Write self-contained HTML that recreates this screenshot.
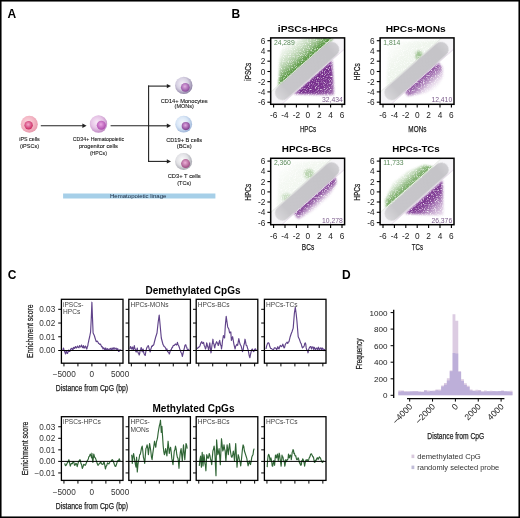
<!DOCTYPE html>
<html><head><meta charset="utf-8"><style>html,body{margin:0;padding:0;background:#fff;width:520px;height:518px;overflow:hidden}svg{display:block;will-change:transform}text{font-family:"Liberation Sans",sans-serif}</style></head>
<body><svg width="520" height="518" viewBox="0 0 520 518" font-family="Liberation Sans, sans-serif"><defs><radialGradient id="bi" cx="0.42" cy="0.4" r="0.62"><stop offset="0" stop-color="#fbd8e0"/><stop offset="0.55" stop-color="#f4b8c6"/><stop offset="1" stop-color="#e898ac"/></radialGradient><radialGradient id="ni" cx="0.45" cy="0.4" r="0.6"><stop offset="0" stop-color="#f5a8cc"/><stop offset="1" stop-color="#c8245c"/></radialGradient><radialGradient id="bh" cx="0.42" cy="0.4" r="0.62"><stop offset="0" stop-color="#f8eaf8"/><stop offset="0.55" stop-color="#e6c4e6"/><stop offset="1" stop-color="#c08ac4"/></radialGradient><radialGradient id="nh" cx="0.45" cy="0.4" r="0.6"><stop offset="0" stop-color="#eaa8e4"/><stop offset="1" stop-color="#ac4aac"/></radialGradient><radialGradient id="bm" cx="0.42" cy="0.4" r="0.62"><stop offset="0" stop-color="#f6f2fa"/><stop offset="0.55" stop-color="#d6d0e2"/><stop offset="1" stop-color="#8c80a2"/></radialGradient><radialGradient id="nm" cx="0.45" cy="0.4" r="0.6"><stop offset="0" stop-color="#e2aee2"/><stop offset="1" stop-color="#8a4a9c"/></radialGradient><radialGradient id="bbc" cx="0.42" cy="0.4" r="0.62"><stop offset="0" stop-color="#f4f8fe"/><stop offset="0.55" stop-color="#d8e6f6"/><stop offset="1" stop-color="#9cb4d8"/></radialGradient><radialGradient id="nbc" cx="0.45" cy="0.4" r="0.6"><stop offset="0" stop-color="#e2a8e2"/><stop offset="1" stop-color="#7a3a8c"/></radialGradient><radialGradient id="bt" cx="0.42" cy="0.4" r="0.62"><stop offset="0" stop-color="#fafafa"/><stop offset="0.55" stop-color="#e2e2e6"/><stop offset="1" stop-color="#a4a4ac"/></radialGradient><radialGradient id="nt" cx="0.45" cy="0.4" r="0.6"><stop offset="0" stop-color="#eeb0d8"/><stop offset="1" stop-color="#9a4a80"/></radialGradient><filter id="soft" x="-0.3" y="-0.3" width="1.6" height="1.6" color-interpolation-filters="sRGB"><feGaussianBlur in="SourceGraphic" stdDeviation="1.2" result="b"/><feTurbulence type="fractalNoise" baseFrequency="0.85" numOctaves="2" seed="4" result="n"/><feGaussianBlur in="n" stdDeviation="0.5" result="n2"/><feColorMatrix in="n2" type="matrix" values="0 0 0 0 0  0 0 0 0 0  0 0 0 0 0  0 0 0 2.6 -0.3" result="m"/><feComposite in="b" in2="m" operator="in"/></filter><filter id="soft1" x="-0.3" y="-0.3" width="1.6" height="1.6"><feGaussianBlur stdDeviation="0.6"/></filter><linearGradient id="bandg" x1="0" y1="0" x2="1" y2="0"><stop offset="0" stop-color="#d8d7da"/><stop offset="0.16" stop-color="#c7c6ca"/><stop offset="0.88" stop-color="#c5c4c8"/><stop offset="1" stop-color="#d0cfd3"/></linearGradient><linearGradient id="tg1" gradientUnits="userSpaceOnUse" x1="305.0" y1="62.8" x2="287.5" y2="42.9"><stop offset="0" stop-color="#56963f" stop-opacity="1.000"/><stop offset="0.15" stop-color="#56963f" stop-opacity="0.900"/><stop offset="0.3" stop-color="#56963f" stop-opacity="0.600"/><stop offset="0.5" stop-color="#56963f" stop-opacity="0.360"/><stop offset="0.75" stop-color="#56963f" stop-opacity="0.170"/><stop offset="1" stop-color="#56963f" stop-opacity="0.050"/></linearGradient><linearGradient id="tg2" gradientUnits="userSpaceOnUse" x1="315.7" y1="74.6" x2="334.0" y2="95.0"><stop offset="0" stop-color="#742a8a" stop-opacity="1.000"/><stop offset="0.5" stop-color="#742a8a" stop-opacity="0.950"/><stop offset="0.8" stop-color="#742a8a" stop-opacity="0.800"/><stop offset="1" stop-color="#742a8a" stop-opacity="0.550"/></linearGradient><clipPath id="clip0_0"><rect x="270.7" y="37.9" width="73.90000000000003" height="66.4"/></clipPath><linearGradient id="tg3" gradientUnits="userSpaceOnUse" x1="410.0" y1="66.5" x2="388.4" y2="42.0"><stop offset="0" stop-color="#56963f" stop-opacity="0.100"/><stop offset="0.4" stop-color="#56963f" stop-opacity="0.080"/><stop offset="1" stop-color="#56963f" stop-opacity="0.000"/></linearGradient><linearGradient id="tg4" gradientUnits="userSpaceOnUse" x1="424.7" y1="74.5" x2="436.6" y2="88.0"><stop offset="0" stop-color="#742a8a" stop-opacity="0.850"/><stop offset="0.3" stop-color="#742a8a" stop-opacity="0.600"/><stop offset="0.65" stop-color="#742a8a" stop-opacity="0.200"/><stop offset="1" stop-color="#742a8a" stop-opacity="0.020"/></linearGradient><clipPath id="clip109_0"><rect x="380.1" y="37.9" width="73.89999999999998" height="66.4"/></clipPath><linearGradient id="tg5" gradientUnits="userSpaceOnUse" x1="300.6" y1="186.9" x2="279.0" y2="162.4"><stop offset="0" stop-color="#56963f" stop-opacity="0.080"/><stop offset="0.4" stop-color="#56963f" stop-opacity="0.064"/><stop offset="1" stop-color="#56963f" stop-opacity="0.000"/></linearGradient><linearGradient id="tg6" gradientUnits="userSpaceOnUse" x1="315.3" y1="194.9" x2="322.6" y2="203.1"><stop offset="0" stop-color="#742a8a" stop-opacity="0.950"/><stop offset="0.35" stop-color="#742a8a" stop-opacity="0.700"/><stop offset="0.75" stop-color="#742a8a" stop-opacity="0.220"/><stop offset="1" stop-color="#742a8a" stop-opacity="0.000"/></linearGradient><clipPath id="clip0_120"><rect x="270.7" y="158.3" width="73.90000000000003" height="66.39999999999998"/></clipPath><linearGradient id="tg7" gradientUnits="userSpaceOnUse" x1="414.1" y1="182.8" x2="404.2" y2="171.6"><stop offset="0" stop-color="#56963f" stop-opacity="0.850"/><stop offset="0.3" stop-color="#56963f" stop-opacity="0.650"/><stop offset="0.6" stop-color="#56963f" stop-opacity="0.300"/><stop offset="1" stop-color="#56963f" stop-opacity="0.030"/></linearGradient><linearGradient id="tg8" gradientUnits="userSpaceOnUse" x1="425.6" y1="195.4" x2="443.4" y2="215.4"><stop offset="0" stop-color="#742a8a" stop-opacity="1.000"/><stop offset="0.3" stop-color="#742a8a" stop-opacity="0.850"/><stop offset="0.6" stop-color="#742a8a" stop-opacity="0.450"/><stop offset="1" stop-color="#742a8a" stop-opacity="0.100"/></linearGradient><clipPath id="clip109_120"><rect x="380.1" y="158.3" width="73.89999999999998" height="66.39999999999998"/></clipPath></defs><rect width="520" height="518" fill="#fff"/><rect x="0.75" y="0.75" width="518.5" height="516.5" fill="none" stroke="#000" stroke-width="1.6"/>
<text x="7.60" y="17.80" font-size="12" fill="#000" font-weight="bold">A</text>
<text x="231.50" y="17.90" font-size="12" fill="#000" font-weight="bold">B</text>
<text x="7.80" y="279.30" font-size="12" fill="#000" font-weight="bold">C</text>
<text x="342.00" y="278.80" font-size="12" fill="#000" font-weight="bold">D</text>
<circle cx="29.3" cy="124.2" r="8.5" fill="url(#bi)"/>
<circle cx="28.6" cy="125.3" r="4.2" fill="url(#ni)"/>
<circle cx="98.5" cy="124.0" r="8.7" fill="url(#bh)"/>
<circle cx="101.3" cy="125.3" r="4.5" fill="url(#nh)"/>
<circle cx="183.8" cy="85.4" r="8.7" fill="url(#bm)"/>
<circle cx="185.3" cy="87.3" r="4.4" fill="url(#nm)"/>
<circle cx="183.7" cy="124.2" r="8.4" fill="url(#bbc)"/>
<circle cx="185.8" cy="126.1" r="4.1" fill="url(#nbc)"/>
<circle cx="183.6" cy="161.4" r="8.5" fill="url(#bt)"/>
<circle cx="185.6" cy="163.6" r="4.5" fill="url(#nt)"/>
<line x1="40.8" y1="125.8" x2="83.6" y2="125.8" stroke="#222" stroke-width="1.1"/>
<polygon points="86.6,125.8 82.39999999999999,123.6 82.39999999999999,128.0" fill="#222"/>
<line x1="110.6" y1="125.8" x2="148.6" y2="125.8" stroke="#222" stroke-width="1.1"/>
<line x1="148.6" y1="85.6" x2="148.6" y2="161.9" stroke="#222" stroke-width="1.1"/>
<line x1="148.1" y1="86.1" x2="168.0" y2="86.1" stroke="#222" stroke-width="1.1"/>
<polygon points="171.0,86.1 166.8,83.89999999999999 166.8,88.3" fill="#222"/>
<line x1="148.1" y1="125.8" x2="168.0" y2="125.8" stroke="#222" stroke-width="1.1"/>
<polygon points="171.0,125.8 166.8,123.6 166.8,128.0" fill="#222"/>
<line x1="148.1" y1="161.4" x2="168.0" y2="161.4" stroke="#222" stroke-width="1.1"/>
<polygon points="171.0,161.4 166.8,159.20000000000002 166.8,163.6" fill="#222"/>
<text x="29.50" y="141.00" font-size="5.9" fill="#222" text-anchor="middle" textLength="20.4" lengthAdjust="spacingAndGlyphs" stroke="#222" stroke-width="0.12">iPS cells</text>
<text x="29.50" y="147.70" font-size="5.9" fill="#222" text-anchor="middle" textLength="19.0" lengthAdjust="spacingAndGlyphs" stroke="#222" stroke-width="0.12">(iPSCs)</text>
<text x="98.40" y="140.60" font-size="5.9" fill="#222" text-anchor="middle" textLength="51.2" lengthAdjust="spacingAndGlyphs" stroke="#222" stroke-width="0.12">CD34+ Hematopoietic</text>
<text x="98.40" y="148.10" font-size="5.9" fill="#222" text-anchor="middle" textLength="39.0" lengthAdjust="spacingAndGlyphs" stroke="#222" stroke-width="0.12">progenitor cells</text>
<text x="98.40" y="155.20" font-size="5.9" fill="#222" text-anchor="middle" textLength="17.0" lengthAdjust="spacingAndGlyphs" stroke="#222" stroke-width="0.12">(HPCs)</text>
<text x="184.20" y="102.50" font-size="5.9" fill="#222" text-anchor="middle" textLength="46.9" lengthAdjust="spacingAndGlyphs" stroke="#222" stroke-width="0.12">CD14+ Monocytes</text>
<text x="184.20" y="108.40" font-size="5.9" fill="#222" text-anchor="middle" textLength="19.2" lengthAdjust="spacingAndGlyphs" stroke="#222" stroke-width="0.12">(MONs)</text>
<text x="184.20" y="141.50" font-size="5.9" fill="#222" text-anchor="middle" textLength="36.0" lengthAdjust="spacingAndGlyphs" stroke="#222" stroke-width="0.12">CD19+ B cells</text>
<text x="184.20" y="147.70" font-size="5.9" fill="#222" text-anchor="middle" textLength="15.0" lengthAdjust="spacingAndGlyphs" stroke="#222" stroke-width="0.12">(BCs)</text>
<text x="184.20" y="178.10" font-size="5.9" fill="#222" text-anchor="middle" textLength="33.0" lengthAdjust="spacingAndGlyphs" stroke="#222" stroke-width="0.12">CD3+ T cells</text>
<text x="184.20" y="185.10" font-size="5.9" fill="#222" text-anchor="middle" textLength="14.0" lengthAdjust="spacingAndGlyphs" stroke="#222" stroke-width="0.12">(TCs)</text>
<rect x="63.1" y="193.5" width="152.3" height="5" fill="#a6cfe8"/>
<text x="110.00" y="198.20" font-size="5.9" fill="#1a2a40" textLength="56.4" lengthAdjust="spacingAndGlyphs">Hematopoietic linage</text>
<g clip-path="url(#clip0_0)">
<polygon points="252.0,108.5 357.1,16.1 368.0,28.4 262.9,120.8" fill="#f6f5f8"/>
<line x1="252.0" y1="108.5" x2="357.1" y2="16.1" stroke="#e2e1e6" stroke-width="0.9"/>
<line x1="262.9" y1="120.8" x2="368.0" y2="28.4" stroke="#e2e1e6" stroke-width="0.9"/>
<polygon points="278.4,87.0 333.2,38.8 326.3,35.5 310.7,35.9 289.7,42.4 281.5,48.2 279.3,60.8 279.1,75.7" fill="url(#tg1)" filter="url(#soft)"/>
<polygon points="294.0,94.0 332.0,60.0 334.0,95.0" fill="url(#tg2)" filter="url(#soft)"/>
<line x1="252.2" y1="108.8" x2="357.3" y2="16.3" stroke="#eef2ea" stroke-width="1"/>
<line x1="262.7" y1="120.7" x2="367.8" y2="28.2" stroke="#f0e4f2" stroke-width="1"/>
<g transform="translate(310.00,68.45) rotate(-41.35)"><rect x="-44.2" y="-7.4" width="80.6" height="14.9" rx="7.45" fill="url(#bandg)" filter="url(#soft1)"/></g>
</g>
<rect x="270.70" y="37.90" width="73.90" height="66.40" fill="none" stroke="#000" stroke-width="1.5"/>
<line x1="267.40" y1="40.70" x2="270.70" y2="40.70" stroke="#000" stroke-width="1.1"/>
<text x="265.30" y="43.70" font-size="8.3" fill="#1a1a1a" text-anchor="end">6</text>
<line x1="267.40" y1="50.90" x2="270.70" y2="50.90" stroke="#000" stroke-width="1.1"/>
<text x="265.30" y="53.90" font-size="8.3" fill="#1a1a1a" text-anchor="end">4</text>
<line x1="267.40" y1="61.20" x2="270.70" y2="61.20" stroke="#000" stroke-width="1.1"/>
<text x="265.30" y="64.20" font-size="8.3" fill="#1a1a1a" text-anchor="end">2</text>
<line x1="267.40" y1="71.50" x2="270.70" y2="71.50" stroke="#000" stroke-width="1.1"/>
<text x="265.30" y="74.50" font-size="8.3" fill="#1a1a1a" text-anchor="end">0</text>
<line x1="267.40" y1="81.60" x2="270.70" y2="81.60" stroke="#000" stroke-width="1.1"/>
<text x="265.30" y="84.60" font-size="8.3" fill="#1a1a1a" text-anchor="end">-2</text>
<line x1="267.40" y1="91.90" x2="270.70" y2="91.90" stroke="#000" stroke-width="1.1"/>
<text x="265.30" y="94.90" font-size="8.3" fill="#1a1a1a" text-anchor="end">-4</text>
<line x1="267.40" y1="102.20" x2="270.70" y2="102.20" stroke="#000" stroke-width="1.1"/>
<text x="265.30" y="105.20" font-size="8.3" fill="#1a1a1a" text-anchor="end">-6</text>
<line x1="273.60" y1="104.30" x2="273.60" y2="107.50" stroke="#000" stroke-width="1.1"/>
<text x="273.60" y="118.30" font-size="8.3" fill="#1a1a1a" text-anchor="middle">-6</text>
<line x1="285.00" y1="104.30" x2="285.00" y2="107.50" stroke="#000" stroke-width="1.1"/>
<text x="285.00" y="118.30" font-size="8.3" fill="#1a1a1a" text-anchor="middle">-4</text>
<line x1="296.40" y1="104.30" x2="296.40" y2="107.50" stroke="#000" stroke-width="1.1"/>
<text x="296.40" y="118.30" font-size="8.3" fill="#1a1a1a" text-anchor="middle">-2</text>
<line x1="307.80" y1="104.30" x2="307.80" y2="107.50" stroke="#000" stroke-width="1.1"/>
<text x="307.80" y="118.30" font-size="8.3" fill="#1a1a1a" text-anchor="middle">0</text>
<line x1="319.20" y1="104.30" x2="319.20" y2="107.50" stroke="#000" stroke-width="1.1"/>
<text x="319.20" y="118.30" font-size="8.3" fill="#1a1a1a" text-anchor="middle">2</text>
<line x1="330.60" y1="104.30" x2="330.60" y2="107.50" stroke="#000" stroke-width="1.1"/>
<text x="330.60" y="118.30" font-size="8.3" fill="#1a1a1a" text-anchor="middle">4</text>
<line x1="342.00" y1="104.30" x2="342.00" y2="107.50" stroke="#000" stroke-width="1.1"/>
<text x="342.00" y="118.30" font-size="8.3" fill="#1a1a1a" text-anchor="middle">6</text>
<text x="307.90" y="32.30" font-size="9.3" fill="#000" text-anchor="middle" font-weight="bold" textLength="60.2" lengthAdjust="spacingAndGlyphs">iPSCs-HPCs</text>
<text transform="translate(250.70,71.80) rotate(-90)" x="0" y="0" font-size="9.9" fill="#222" stroke="#222" stroke-width="0.25" text-anchor="middle" textLength="18.0" lengthAdjust="spacingAndGlyphs">iPSCs</text>
<text x="308.00" y="131.90" font-size="9.9" fill="#222" text-anchor="middle" textLength="16.2" lengthAdjust="spacingAndGlyphs" stroke="#222" stroke-width="0.25">HPCs</text>
<text x="273.90" y="44.80" font-size="6.8" fill="#5a8a5a">24,289</text>
<text x="342.80" y="102.10" font-size="6.8" fill="#7a5a8a" text-anchor="end">32,434</text>
<g clip-path="url(#clip109_0)">
<polygon points="361.4,108.5 466.5,16.1 477.4,28.4 372.3,120.8" fill="#f6f5f8"/>
<line x1="361.4" y1="108.5" x2="466.5" y2="16.1" stroke="#e2e1e6" stroke-width="0.9"/>
<line x1="372.3" y1="120.8" x2="477.4" y2="28.4" stroke="#e2e1e6" stroke-width="0.9"/>
<polygon points="386.4,87.3 440.4,39.8 388.4,42.0" fill="url(#tg3)" filter="url(#soft)"/>
<ellipse cx="418.9" cy="55.5" rx="3.5" ry="4.8" fill="#56963f" opacity="0.5" filter="url(#soft)"/>
<polygon points="404.8,91.3 437.9,62.2 442.2,67.1 442.9,77.0 436.6,88.0 424.9,92.9 407.7,96.0" fill="url(#tg4)" filter="url(#soft)"/>
<line x1="361.6" y1="108.8" x2="466.7" y2="16.3" stroke="#eef2ea" stroke-width="1"/>
<line x1="372.1" y1="120.7" x2="477.2" y2="28.2" stroke="#f0e4f2" stroke-width="1"/>
<g transform="translate(419.40,68.45) rotate(-41.35)"><rect x="-44.2" y="-7.4" width="80.6" height="14.9" rx="7.45" fill="url(#bandg)" filter="url(#soft1)"/></g>
</g>
<rect x="380.10" y="37.90" width="73.90" height="66.40" fill="none" stroke="#000" stroke-width="1.5"/>
<line x1="376.80" y1="40.70" x2="380.10" y2="40.70" stroke="#000" stroke-width="1.1"/>
<text x="374.70" y="43.70" font-size="8.3" fill="#1a1a1a" text-anchor="end">6</text>
<line x1="376.80" y1="50.90" x2="380.10" y2="50.90" stroke="#000" stroke-width="1.1"/>
<text x="374.70" y="53.90" font-size="8.3" fill="#1a1a1a" text-anchor="end">4</text>
<line x1="376.80" y1="61.20" x2="380.10" y2="61.20" stroke="#000" stroke-width="1.1"/>
<text x="374.70" y="64.20" font-size="8.3" fill="#1a1a1a" text-anchor="end">2</text>
<line x1="376.80" y1="71.50" x2="380.10" y2="71.50" stroke="#000" stroke-width="1.1"/>
<text x="374.70" y="74.50" font-size="8.3" fill="#1a1a1a" text-anchor="end">0</text>
<line x1="376.80" y1="81.60" x2="380.10" y2="81.60" stroke="#000" stroke-width="1.1"/>
<text x="374.70" y="84.60" font-size="8.3" fill="#1a1a1a" text-anchor="end">-2</text>
<line x1="376.80" y1="91.90" x2="380.10" y2="91.90" stroke="#000" stroke-width="1.1"/>
<text x="374.70" y="94.90" font-size="8.3" fill="#1a1a1a" text-anchor="end">-4</text>
<line x1="376.80" y1="102.20" x2="380.10" y2="102.20" stroke="#000" stroke-width="1.1"/>
<text x="374.70" y="105.20" font-size="8.3" fill="#1a1a1a" text-anchor="end">-6</text>
<line x1="383.00" y1="104.30" x2="383.00" y2="107.50" stroke="#000" stroke-width="1.1"/>
<text x="383.00" y="118.30" font-size="8.3" fill="#1a1a1a" text-anchor="middle">-6</text>
<line x1="394.40" y1="104.30" x2="394.40" y2="107.50" stroke="#000" stroke-width="1.1"/>
<text x="394.40" y="118.30" font-size="8.3" fill="#1a1a1a" text-anchor="middle">-4</text>
<line x1="405.80" y1="104.30" x2="405.80" y2="107.50" stroke="#000" stroke-width="1.1"/>
<text x="405.80" y="118.30" font-size="8.3" fill="#1a1a1a" text-anchor="middle">-2</text>
<line x1="417.20" y1="104.30" x2="417.20" y2="107.50" stroke="#000" stroke-width="1.1"/>
<text x="417.20" y="118.30" font-size="8.3" fill="#1a1a1a" text-anchor="middle">0</text>
<line x1="428.60" y1="104.30" x2="428.60" y2="107.50" stroke="#000" stroke-width="1.1"/>
<text x="428.60" y="118.30" font-size="8.3" fill="#1a1a1a" text-anchor="middle">2</text>
<line x1="440.00" y1="104.30" x2="440.00" y2="107.50" stroke="#000" stroke-width="1.1"/>
<text x="440.00" y="118.30" font-size="8.3" fill="#1a1a1a" text-anchor="middle">4</text>
<line x1="451.40" y1="104.30" x2="451.40" y2="107.50" stroke="#000" stroke-width="1.1"/>
<text x="451.40" y="118.30" font-size="8.3" fill="#1a1a1a" text-anchor="middle">6</text>
<text x="415.70" y="32.30" font-size="9.3" fill="#000" text-anchor="middle" font-weight="bold" textLength="60.0" lengthAdjust="spacingAndGlyphs">HPCs-MONs</text>
<text transform="translate(360.10,71.80) rotate(-90)" x="0" y="0" font-size="9.9" fill="#222" stroke="#222" stroke-width="0.25" text-anchor="middle" textLength="16.9" lengthAdjust="spacingAndGlyphs">HPCs</text>
<text x="417.40" y="131.90" font-size="9.9" fill="#222" text-anchor="middle" textLength="18.1" lengthAdjust="spacingAndGlyphs" stroke="#222" stroke-width="0.25">MONs</text>
<text x="383.30" y="44.80" font-size="6.8" fill="#5a8a5a">1,814</text>
<text x="452.20" y="102.10" font-size="6.8" fill="#7a5a8a" text-anchor="end">12,410</text>
<g clip-path="url(#clip0_120)">
<polygon points="252.0,228.9 357.1,136.5 368.0,148.8 262.9,241.2" fill="#f6f5f8"/>
<line x1="252.0" y1="228.9" x2="357.1" y2="136.5" stroke="#e2e1e6" stroke-width="0.9"/>
<line x1="262.9" y1="241.2" x2="368.0" y2="148.8" stroke="#e2e1e6" stroke-width="0.9"/>
<polygon points="277.0,207.7 331.0,160.2 279.0,162.4" fill="url(#tg5)" filter="url(#soft)"/>
<ellipse cx="309.0" cy="173.9" rx="5" ry="5" fill="#56963f" opacity="0.35" filter="url(#soft)"/>
<ellipse cx="286.5" cy="197.4" rx="5" ry="4" fill="#56963f" opacity="0.25" filter="url(#soft)"/>
<polygon points="293.9,213.0 335.2,176.6 336.6,182.8 329.4,195.8 315.0,209.7 298.1,219.3" fill="url(#tg6)" filter="url(#soft)"/>
<line x1="252.2" y1="229.2" x2="357.3" y2="136.7" stroke="#eef2ea" stroke-width="1"/>
<line x1="262.7" y1="241.1" x2="367.8" y2="148.6" stroke="#f0e4f2" stroke-width="1"/>
<g transform="translate(310.00,188.85) rotate(-41.35)"><rect x="-44.2" y="-7.4" width="80.6" height="14.9" rx="7.45" fill="url(#bandg)" filter="url(#soft1)"/></g>
</g>
<rect x="270.70" y="158.30" width="73.90" height="66.40" fill="none" stroke="#000" stroke-width="1.5"/>
<line x1="267.40" y1="161.10" x2="270.70" y2="161.10" stroke="#000" stroke-width="1.1"/>
<text x="265.30" y="164.10" font-size="8.3" fill="#1a1a1a" text-anchor="end">6</text>
<line x1="267.40" y1="171.30" x2="270.70" y2="171.30" stroke="#000" stroke-width="1.1"/>
<text x="265.30" y="174.30" font-size="8.3" fill="#1a1a1a" text-anchor="end">4</text>
<line x1="267.40" y1="181.60" x2="270.70" y2="181.60" stroke="#000" stroke-width="1.1"/>
<text x="265.30" y="184.60" font-size="8.3" fill="#1a1a1a" text-anchor="end">2</text>
<line x1="267.40" y1="191.90" x2="270.70" y2="191.90" stroke="#000" stroke-width="1.1"/>
<text x="265.30" y="194.90" font-size="8.3" fill="#1a1a1a" text-anchor="end">0</text>
<line x1="267.40" y1="202.00" x2="270.70" y2="202.00" stroke="#000" stroke-width="1.1"/>
<text x="265.30" y="205.00" font-size="8.3" fill="#1a1a1a" text-anchor="end">-2</text>
<line x1="267.40" y1="212.30" x2="270.70" y2="212.30" stroke="#000" stroke-width="1.1"/>
<text x="265.30" y="215.30" font-size="8.3" fill="#1a1a1a" text-anchor="end">-4</text>
<line x1="267.40" y1="222.60" x2="270.70" y2="222.60" stroke="#000" stroke-width="1.1"/>
<text x="265.30" y="225.60" font-size="8.3" fill="#1a1a1a" text-anchor="end">-6</text>
<line x1="273.60" y1="224.70" x2="273.60" y2="227.90" stroke="#000" stroke-width="1.1"/>
<text x="273.60" y="238.70" font-size="8.3" fill="#1a1a1a" text-anchor="middle">-6</text>
<line x1="285.00" y1="224.70" x2="285.00" y2="227.90" stroke="#000" stroke-width="1.1"/>
<text x="285.00" y="238.70" font-size="8.3" fill="#1a1a1a" text-anchor="middle">-4</text>
<line x1="296.40" y1="224.70" x2="296.40" y2="227.90" stroke="#000" stroke-width="1.1"/>
<text x="296.40" y="238.70" font-size="8.3" fill="#1a1a1a" text-anchor="middle">-2</text>
<line x1="307.80" y1="224.70" x2="307.80" y2="227.90" stroke="#000" stroke-width="1.1"/>
<text x="307.80" y="238.70" font-size="8.3" fill="#1a1a1a" text-anchor="middle">0</text>
<line x1="319.20" y1="224.70" x2="319.20" y2="227.90" stroke="#000" stroke-width="1.1"/>
<text x="319.20" y="238.70" font-size="8.3" fill="#1a1a1a" text-anchor="middle">2</text>
<line x1="330.60" y1="224.70" x2="330.60" y2="227.90" stroke="#000" stroke-width="1.1"/>
<text x="330.60" y="238.70" font-size="8.3" fill="#1a1a1a" text-anchor="middle">4</text>
<line x1="342.00" y1="224.70" x2="342.00" y2="227.90" stroke="#000" stroke-width="1.1"/>
<text x="342.00" y="238.70" font-size="8.3" fill="#1a1a1a" text-anchor="middle">6</text>
<text x="306.60" y="152.40" font-size="9.3" fill="#000" text-anchor="middle" font-weight="bold" textLength="49.6" lengthAdjust="spacingAndGlyphs">HPCs-BCs</text>
<text transform="translate(250.70,192.20) rotate(-90)" x="0" y="0" font-size="9.9" fill="#222" stroke="#222" stroke-width="0.25" text-anchor="middle" textLength="16.9" lengthAdjust="spacingAndGlyphs">HPCs</text>
<text x="308.00" y="250.20" font-size="9.9" fill="#222" text-anchor="middle" textLength="12.3" lengthAdjust="spacingAndGlyphs" stroke="#222" stroke-width="0.25">BCs</text>
<text x="273.90" y="165.20" font-size="6.8" fill="#5a8a5a">2,360</text>
<text x="342.80" y="222.50" font-size="6.8" fill="#7a5a8a" text-anchor="end">10,278</text>
<g clip-path="url(#clip109_120)">
<polygon points="361.4,228.9 466.5,136.5 477.4,148.8 372.3,241.2" fill="#f6f5f8"/>
<line x1="361.4" y1="228.9" x2="466.5" y2="136.5" stroke="#e2e1e6" stroke-width="0.9"/>
<line x1="372.3" y1="241.2" x2="477.4" y2="148.8" stroke="#e2e1e6" stroke-width="0.9"/>
<polygon points="385.9,208.3 433.2,166.7 423.8,165.0 407.0,171.8 392.9,182.9 385.4,200.1" fill="url(#tg7)" filter="url(#soft)"/>
<polygon points="405.4,213.4 442.4,180.4 443.4,215.4" fill="url(#tg8)" filter="url(#soft)"/>
<line x1="361.6" y1="229.2" x2="466.7" y2="136.7" stroke="#eef2ea" stroke-width="1"/>
<line x1="372.1" y1="241.1" x2="477.2" y2="148.6" stroke="#f0e4f2" stroke-width="1"/>
<g transform="translate(419.40,188.85) rotate(-41.35)"><rect x="-44.2" y="-7.0" width="80.6" height="14.6" rx="7.3" fill="url(#bandg)" filter="url(#soft1)"/></g>
</g>
<rect x="380.10" y="158.30" width="73.90" height="66.40" fill="none" stroke="#000" stroke-width="1.5"/>
<line x1="376.80" y1="161.10" x2="380.10" y2="161.10" stroke="#000" stroke-width="1.1"/>
<text x="374.70" y="164.10" font-size="8.3" fill="#1a1a1a" text-anchor="end">6</text>
<line x1="376.80" y1="171.30" x2="380.10" y2="171.30" stroke="#000" stroke-width="1.1"/>
<text x="374.70" y="174.30" font-size="8.3" fill="#1a1a1a" text-anchor="end">4</text>
<line x1="376.80" y1="181.60" x2="380.10" y2="181.60" stroke="#000" stroke-width="1.1"/>
<text x="374.70" y="184.60" font-size="8.3" fill="#1a1a1a" text-anchor="end">2</text>
<line x1="376.80" y1="191.90" x2="380.10" y2="191.90" stroke="#000" stroke-width="1.1"/>
<text x="374.70" y="194.90" font-size="8.3" fill="#1a1a1a" text-anchor="end">0</text>
<line x1="376.80" y1="202.00" x2="380.10" y2="202.00" stroke="#000" stroke-width="1.1"/>
<text x="374.70" y="205.00" font-size="8.3" fill="#1a1a1a" text-anchor="end">-2</text>
<line x1="376.80" y1="212.30" x2="380.10" y2="212.30" stroke="#000" stroke-width="1.1"/>
<text x="374.70" y="215.30" font-size="8.3" fill="#1a1a1a" text-anchor="end">-4</text>
<line x1="376.80" y1="222.60" x2="380.10" y2="222.60" stroke="#000" stroke-width="1.1"/>
<text x="374.70" y="225.60" font-size="8.3" fill="#1a1a1a" text-anchor="end">-6</text>
<line x1="383.00" y1="224.70" x2="383.00" y2="227.90" stroke="#000" stroke-width="1.1"/>
<text x="383.00" y="238.70" font-size="8.3" fill="#1a1a1a" text-anchor="middle">-6</text>
<line x1="394.40" y1="224.70" x2="394.40" y2="227.90" stroke="#000" stroke-width="1.1"/>
<text x="394.40" y="238.70" font-size="8.3" fill="#1a1a1a" text-anchor="middle">-4</text>
<line x1="405.80" y1="224.70" x2="405.80" y2="227.90" stroke="#000" stroke-width="1.1"/>
<text x="405.80" y="238.70" font-size="8.3" fill="#1a1a1a" text-anchor="middle">-2</text>
<line x1="417.20" y1="224.70" x2="417.20" y2="227.90" stroke="#000" stroke-width="1.1"/>
<text x="417.20" y="238.70" font-size="8.3" fill="#1a1a1a" text-anchor="middle">0</text>
<line x1="428.60" y1="224.70" x2="428.60" y2="227.90" stroke="#000" stroke-width="1.1"/>
<text x="428.60" y="238.70" font-size="8.3" fill="#1a1a1a" text-anchor="middle">2</text>
<line x1="440.00" y1="224.70" x2="440.00" y2="227.90" stroke="#000" stroke-width="1.1"/>
<text x="440.00" y="238.70" font-size="8.3" fill="#1a1a1a" text-anchor="middle">4</text>
<line x1="451.40" y1="224.70" x2="451.40" y2="227.90" stroke="#000" stroke-width="1.1"/>
<text x="451.40" y="238.70" font-size="8.3" fill="#1a1a1a" text-anchor="middle">6</text>
<text x="416.00" y="152.40" font-size="9.3" fill="#000" text-anchor="middle" font-weight="bold" textLength="47.6" lengthAdjust="spacingAndGlyphs">HPCs-TCs</text>
<text transform="translate(360.10,192.20) rotate(-90)" x="0" y="0" font-size="9.9" fill="#222" stroke="#222" stroke-width="0.25" text-anchor="middle" textLength="16.9" lengthAdjust="spacingAndGlyphs">HPCs</text>
<text x="417.40" y="250.20" font-size="9.9" fill="#222" text-anchor="middle" textLength="11.2" lengthAdjust="spacingAndGlyphs" stroke="#222" stroke-width="0.25">TCs</text>
<text x="383.30" y="165.20" font-size="6.8" fill="#5a8a5a">11,733</text>
<text x="452.20" y="222.50" font-size="6.8" fill="#7a5a8a" text-anchor="end">26,376</text>
<polyline points="62.5,349.5 63.0,349.6 63.5,348.0 64.1,350.3 64.7,352.0 65.1,352.5 65.5,354.0 66.0,351.3 66.5,351.0 67.0,353.5 67.5,353.5 68.0,352.0 68.5,350.0 69.0,351.5 69.6,351.5 70.0,351.3 70.5,349.0 71.0,349.2 71.5,348.5 72.0,348.2 72.5,349.5 73.0,349.8 73.5,347.5 74.0,347.4 74.5,348.5 75.0,347.8 75.5,346.5 76.0,347.5 76.5,348.0 77.0,347.3 77.5,346.0 78.0,346.8 78.5,347.5 79.0,347.8 79.5,345.5 80.0,346.3 80.5,347.0 81.0,346.7 81.5,345.0 82.0,346.2 82.5,347.5 83.0,347.8 83.5,345.5 84.0,348.0 84.5,348.0 85.0,346.7 85.5,346.0 86.0,347.0 86.5,349.0 86.9,348.9 87.3,347.0 87.8,345.8 88.2,343.0 88.5,342.2 88.8,340.4 89.6,337.0 90.6,331.8 91.3,318.0 91.9,302.2 92.5,318.0 93.1,333.0 94.3,335.5 95.2,338.5 96.2,341.7 97.2,341.0 97.9,342.0 98.6,343.5 99.2,343.7 99.8,344.5 100.4,344.0 101.1,345.4 101.5,346.5 102.0,347.0 102.5,346.9 103.0,349.0 103.5,347.9 104.0,348.0 104.5,349.4 105.0,350.0 105.5,348.0 106.0,348.5 106.5,350.4 107.0,350.5 107.5,348.6 108.0,349.0 108.5,349.7 109.0,350.2 109.5,349.5 110.0,348.5 110.5,348.4 111.0,349.8 111.5,350.1 112.0,348.0 112.5,348.3 113.0,349.5 113.5,348.5 114.0,347.5 114.5,349.2 115.0,349.0 115.5,348.9 116.0,348.0 116.5,349.0 117.0,350.5 117.5,348.7 118.0,349.0 118.5,351.4 119.0,351.5 119.5,350.7 120.0,349.5 120.5,350.2 121.0,350.5 121.7,350.5 122.3,350.0" fill="none" stroke="#60438a" stroke-width="1.15" stroke-linejoin="round"/>
<line x1="61.40" y1="350.50" x2="123.00" y2="350.50" stroke="#000" stroke-width="1"/>
<rect x="61.40" y="299.30" width="61.60" height="63.90" fill="none" stroke="#000" stroke-width="1.3"/>
<line x1="58.20" y1="309.31" x2="61.40" y2="309.31" stroke="#000" stroke-width="1"/>
<text x="55.20" y="312.21" font-size="8.2" fill="#333" text-anchor="end">0.03</text>
<line x1="58.20" y1="323.04" x2="61.40" y2="323.04" stroke="#000" stroke-width="1"/>
<text x="55.20" y="325.94" font-size="8.2" fill="#333" text-anchor="end">0.02</text>
<line x1="58.20" y1="336.77" x2="61.40" y2="336.77" stroke="#000" stroke-width="1"/>
<text x="55.20" y="339.67" font-size="8.2" fill="#333" text-anchor="end">0.01</text>
<line x1="58.20" y1="350.50" x2="61.40" y2="350.50" stroke="#000" stroke-width="1"/>
<text x="55.20" y="353.40" font-size="8.2" fill="#333" text-anchor="end">0.00</text>
<line x1="63.95" y1="363.20" x2="63.95" y2="366.40" stroke="#000" stroke-width="1"/>
<line x1="77.93" y1="363.20" x2="77.93" y2="366.40" stroke="#000" stroke-width="1"/>
<line x1="91.90" y1="363.20" x2="91.90" y2="366.40" stroke="#000" stroke-width="1"/>
<line x1="105.88" y1="363.20" x2="105.88" y2="366.40" stroke="#000" stroke-width="1"/>
<line x1="119.85" y1="363.20" x2="119.85" y2="366.40" stroke="#000" stroke-width="1"/>
<text x="63.00" y="306.90" font-size="6.6" fill="#444">iPSCs-</text>
<text x="63.00" y="314.30" font-size="6.6" fill="#444">HPCs</text>
<text x="64.20" y="376.90" font-size="8.2" fill="#333" text-anchor="middle">−5000</text>
<text x="91.90" y="376.90" font-size="8.2" fill="#333" text-anchor="middle">0</text>
<text x="120.10" y="376.90" font-size="8.2" fill="#333" text-anchor="middle">5000</text>
<text x="91.90" y="391.40" font-size="9.4" fill="#222" text-anchor="middle" textLength="72.4" lengthAdjust="spacingAndGlyphs" stroke="#222" stroke-width="0.25">Distance from CpG (bp)</text>
<text transform="translate(32.70,331.10) rotate(-90)" x="0" y="0" font-size="9.3" fill="#222" stroke="#222" stroke-width="0.25" text-anchor="middle" textLength="53.6" lengthAdjust="spacingAndGlyphs">Enrichment score</text>
<polyline points="129.5,348.0 130.0,348.4 130.5,346.5 131.0,347.4 131.5,349.0 132.0,348.7 132.5,347.0 133.0,349.0 133.5,350.5 133.9,347.5 134.3,345.5 134.8,348.3 135.3,349.0 135.8,351.5 136.3,352.0 136.8,349.6 137.3,348.0 137.8,351.7 138.2,353.0 138.7,353.3 139.2,355.0 139.7,353.3 140.2,350.0 140.7,349.2 141.2,347.5 141.7,349.7 142.2,352.0 142.7,349.3 143.2,349.0 143.7,352.5 144.2,354.0 144.7,354.9 145.2,355.5 145.7,352.5 146.2,350.0 146.7,348.1 147.2,347.0 147.7,346.6 148.2,345.5 148.7,346.9 149.2,349.0 149.7,350.5 150.2,352.0 150.7,349.7 151.2,348.0 151.7,346.1 152.2,346.5 152.7,345.3 153.2,345.4 153.8,344.6 154.4,342.0 155.8,336.7 157.0,333.0 158.2,322.0 159.2,315.1 160.2,326.0 161.3,338.0 162.6,343.0 163.1,344.8 163.5,345.0 163.9,346.2 164.4,346.6 165.0,347.2 165.6,348.0 166.2,349.7 166.9,349.0 167.5,351.4 168.1,352.0 168.7,352.3 169.3,354.0 169.9,352.2 170.5,350.0 171.2,350.1 171.8,347.9 172.4,347.7 173.0,346.0 173.7,345.4 174.3,345.4 174.9,344.6 175.5,344.0 176.0,344.5 176.5,345.0 176.9,344.7 177.4,342.3 178.0,344.5 178.6,345.5 179.2,347.0 179.8,349.0 180.4,350.7 181.0,352.5 181.7,353.4 182.3,356.5 182.8,354.7 183.2,353.0 183.7,350.3 184.2,349.0 184.8,345.8 185.4,344.8 185.9,344.8 186.3,347.0 186.8,347.3 187.2,349.0 187.7,350.3 188.2,350.5 188.8,349.2 189.3,349.5" fill="none" stroke="#60438a" stroke-width="1.15" stroke-linejoin="round"/>
<line x1="128.80" y1="350.50" x2="190.40" y2="350.50" stroke="#000" stroke-width="1"/>
<rect x="128.80" y="299.30" width="61.60" height="63.90" fill="none" stroke="#000" stroke-width="1.3"/>
<line x1="125.60" y1="309.31" x2="128.80" y2="309.31" stroke="#000" stroke-width="1"/>
<line x1="125.60" y1="323.04" x2="128.80" y2="323.04" stroke="#000" stroke-width="1"/>
<line x1="125.60" y1="336.77" x2="128.80" y2="336.77" stroke="#000" stroke-width="1"/>
<line x1="125.60" y1="350.50" x2="128.80" y2="350.50" stroke="#000" stroke-width="1"/>
<line x1="131.35" y1="363.20" x2="131.35" y2="366.40" stroke="#000" stroke-width="1"/>
<line x1="145.33" y1="363.20" x2="145.33" y2="366.40" stroke="#000" stroke-width="1"/>
<line x1="159.30" y1="363.20" x2="159.30" y2="366.40" stroke="#000" stroke-width="1"/>
<line x1="173.28" y1="363.20" x2="173.28" y2="366.40" stroke="#000" stroke-width="1"/>
<line x1="187.25" y1="363.20" x2="187.25" y2="366.40" stroke="#000" stroke-width="1"/>
<text x="130.40" y="306.90" font-size="6.6" fill="#444">HPCs-MONs</text>
<polyline points="197.5,349.0 198.0,347.4 198.5,347.5 198.9,347.3 199.3,346.6 199.9,346.1 200.5,344.0 201.2,342.3 201.8,341.7 202.2,343.1 202.7,343.5 203.1,342.8 203.6,342.3 204.1,345.2 204.6,346.0 205.1,347.7 205.5,349.0 206.1,347.2 206.7,342.9 207.1,344.0 207.6,346.5 208.1,347.4 208.6,350.3 209.2,346.2 209.8,342.9 210.4,348.6 211.0,352.8 211.5,349.0 212.0,345.0 212.4,343.2 212.9,339.2 213.4,342.9 213.9,344.0 214.4,347.0 214.8,347.9 215.2,345.1 215.7,344.0 216.1,343.1 216.6,341.7 217.1,342.9 217.6,343.0 218.1,345.3 218.5,345.4 219.1,342.0 219.7,340.4 220.1,343.0 220.6,345.0 221.1,345.8 221.5,349.0 222.0,345.6 222.5,341.0 223.4,335.5 224.6,338.0 225.3,326.0 226.2,316.4 227.0,322.0 227.7,326.9 228.9,329.3 229.6,333.0 230.8,331.8 231.4,340.4 232.6,336.7 233.9,344.1 234.5,346.7 235.1,349.0 235.7,346.2 236.3,345.4 236.9,344.4 237.6,345.4 238.2,342.1 238.8,338.6 240.0,344.1 240.7,345.3 241.3,346.6 241.9,349.2 242.5,351.6 243.2,349.7 243.8,345.4 244.4,343.5 245.0,339.2 245.6,341.8 246.2,345.4 246.8,345.5 247.5,347.9 248.1,349.8 248.7,352.8 249.3,356.1 249.9,357.7 250.6,354.0 251.2,351.6 251.8,349.4 252.4,349.0 253.0,350.6 253.6,351.6 254.2,350.8 254.9,349.0 255.6,348.9 256.3,350.5" fill="none" stroke="#60438a" stroke-width="1.15" stroke-linejoin="round"/>
<line x1="196.20" y1="350.50" x2="257.80" y2="350.50" stroke="#000" stroke-width="1"/>
<rect x="196.20" y="299.30" width="61.60" height="63.90" fill="none" stroke="#000" stroke-width="1.3"/>
<line x1="193.00" y1="309.31" x2="196.20" y2="309.31" stroke="#000" stroke-width="1"/>
<line x1="193.00" y1="323.04" x2="196.20" y2="323.04" stroke="#000" stroke-width="1"/>
<line x1="193.00" y1="336.77" x2="196.20" y2="336.77" stroke="#000" stroke-width="1"/>
<line x1="193.00" y1="350.50" x2="196.20" y2="350.50" stroke="#000" stroke-width="1"/>
<line x1="198.75" y1="363.20" x2="198.75" y2="366.40" stroke="#000" stroke-width="1"/>
<line x1="212.72" y1="363.20" x2="212.72" y2="366.40" stroke="#000" stroke-width="1"/>
<line x1="226.70" y1="363.20" x2="226.70" y2="366.40" stroke="#000" stroke-width="1"/>
<line x1="240.67" y1="363.20" x2="240.67" y2="366.40" stroke="#000" stroke-width="1"/>
<line x1="254.65" y1="363.20" x2="254.65" y2="366.40" stroke="#000" stroke-width="1"/>
<text x="197.80" y="306.90" font-size="6.6" fill="#444">HPCs-BCs</text>
<polyline points="266.0,349.0 266.6,346.1 267.3,344.1 268.0,342.8 268.6,342.9 269.2,343.9 269.8,346.6 270.7,348.5 271.6,348.5 272.6,350.0 273.5,349.7 274.4,347.8 275.3,347.9 276.0,348.3 276.6,349.7 277.2,348.6 277.8,346.6 278.4,348.3 279.0,349.0 279.6,347.0 280.3,345.4 280.9,346.0 281.5,346.6 282.1,346.0 282.8,344.1 283.4,345.8 284.0,347.9 284.6,347.5 285.2,344.8 285.9,343.4 286.5,342.9 287.1,342.2 287.7,343.5 288.4,342.0 289.0,341.7 290.2,336.7 291.1,334.0 292.0,331.8 293.2,328.1 294.4,313.0 295.3,307.4 296.2,314.0 296.9,320.7 298.2,336.7 299.4,339.2 300.6,342.9 301.2,343.6 301.9,346.6 302.5,348.0 303.1,347.2 303.7,346.7 304.3,345.4 304.8,343.4 305.3,342.9 305.8,344.2 306.2,347.9 306.8,350.0 307.4,350.3 307.7,351.2 308.0,352.8 308.6,349.6 309.3,347.9 309.9,347.0 310.5,346.6 311.0,346.9 311.5,349.0 312.0,346.9 312.5,347.0 313.0,347.0 313.5,349.5 314.0,347.2 314.5,347.5 315.0,349.1 315.5,350.0 316.0,348.6 316.5,348.0 317.0,348.1 317.5,349.5 318.0,348.2 318.5,347.2 319.0,349.2 319.5,350.5 320.0,348.6 320.5,348.0 321.0,347.8 321.5,349.5 322.0,349.2 322.5,348.0 323.0,348.7 323.5,350.5 324.1,350.7 324.7,349.0" fill="none" stroke="#60438a" stroke-width="1.15" stroke-linejoin="round"/>
<line x1="264.40" y1="350.50" x2="326.00" y2="350.50" stroke="#000" stroke-width="1"/>
<rect x="264.40" y="299.30" width="61.60" height="63.90" fill="none" stroke="#000" stroke-width="1.3"/>
<line x1="261.20" y1="309.31" x2="264.40" y2="309.31" stroke="#000" stroke-width="1"/>
<line x1="261.20" y1="323.04" x2="264.40" y2="323.04" stroke="#000" stroke-width="1"/>
<line x1="261.20" y1="336.77" x2="264.40" y2="336.77" stroke="#000" stroke-width="1"/>
<line x1="261.20" y1="350.50" x2="264.40" y2="350.50" stroke="#000" stroke-width="1"/>
<line x1="266.95" y1="363.20" x2="266.95" y2="366.40" stroke="#000" stroke-width="1"/>
<line x1="280.92" y1="363.20" x2="280.92" y2="366.40" stroke="#000" stroke-width="1"/>
<line x1="294.90" y1="363.20" x2="294.90" y2="366.40" stroke="#000" stroke-width="1"/>
<line x1="308.88" y1="363.20" x2="308.88" y2="366.40" stroke="#000" stroke-width="1"/>
<line x1="322.85" y1="363.20" x2="322.85" y2="366.40" stroke="#000" stroke-width="1"/>
<text x="266.00" y="306.90" font-size="6.6" fill="#444">HPCs-TCs</text>
<text x="193.00" y="294.30" font-size="10" fill="#000" text-anchor="middle" font-weight="bold" textLength="95" lengthAdjust="spacingAndGlyphs">Demethylated CpGs</text>
<text x="193.50" y="412.00" font-size="10" fill="#000" text-anchor="middle" font-weight="bold" textLength="82" lengthAdjust="spacingAndGlyphs">Methylated CpGs</text>
<polyline points="64.7,463.4 65.4,465.7 66.1,465.3 66.8,463.9 67.5,462.5 68.2,461.8 68.9,459.7 69.6,463.0 70.3,466.2 71.0,464.0 71.7,463.4 72.4,463.7 73.1,461.5 73.8,462.0 74.5,465.3 75.2,465.0 75.8,463.4 76.5,463.7 77.2,466.6 77.9,463.9 78.6,461.5 79.3,460.7 80.0,459.7 80.5,460.8 80.9,463.4 81.6,464.6 82.3,468.5 83.0,466.8 83.7,464.3 84.4,464.8 85.1,465.3 85.8,464.3 86.5,462.5 87.2,460.9 87.9,459.7 88.3,459.0 88.8,456.9 89.5,456.1 90.2,454.1 90.9,455.6 91.6,457.8 91.8,456.6 91.9,453.2 92.4,458.9 92.9,462.5 93.3,458.2 93.8,454.1 94.5,457.0 95.2,457.8 95.9,459.3 96.6,461.5 97.3,463.8 98.0,465.3 98.7,464.6 99.3,463.4 100.0,463.3 100.7,461.5 101.4,463.6 102.1,464.3 103.0,464.4 104.0,461.5 104.7,464.7 105.4,469.0 106.1,466.3 106.8,465.3 107.5,462.9 108.2,463.4 108.9,464.0 109.6,462.5 110.2,461.5 110.9,461.5 111.6,460.3 112.3,459.7 113.0,460.6 113.7,462.5 114.4,464.5 115.1,466.2 115.8,466.4 116.5,464.3 117.2,461.8 117.9,460.6 118.6,460.4 119.3,458.8 119.8,460.7 120.2,459.7" fill="none" stroke="#2f6535" stroke-width="1.15" stroke-linejoin="round"/>
<line x1="61.40" y1="461.40" x2="123.00" y2="461.40" stroke="#000" stroke-width="1"/>
<rect x="61.40" y="416.70" width="61.60" height="63.70" fill="none" stroke="#000" stroke-width="1.3"/>
<line x1="58.20" y1="426.75" x2="61.40" y2="426.75" stroke="#000" stroke-width="1"/>
<text x="55.20" y="429.65" font-size="8.2" fill="#333" text-anchor="end">0.03</text>
<line x1="58.20" y1="438.30" x2="61.40" y2="438.30" stroke="#000" stroke-width="1"/>
<text x="55.20" y="441.20" font-size="8.2" fill="#333" text-anchor="end">0.02</text>
<line x1="58.20" y1="449.85" x2="61.40" y2="449.85" stroke="#000" stroke-width="1"/>
<text x="55.20" y="452.75" font-size="8.2" fill="#333" text-anchor="end">0.01</text>
<line x1="58.20" y1="461.40" x2="61.40" y2="461.40" stroke="#000" stroke-width="1"/>
<text x="55.20" y="464.30" font-size="8.2" fill="#333" text-anchor="end">0.00</text>
<line x1="58.20" y1="472.95" x2="61.40" y2="472.95" stroke="#000" stroke-width="1"/>
<text x="55.20" y="475.85" font-size="8.2" fill="#333" text-anchor="end">−0.01</text>
<line x1="63.95" y1="480.40" x2="63.95" y2="483.60" stroke="#000" stroke-width="1"/>
<line x1="77.93" y1="480.40" x2="77.93" y2="483.60" stroke="#000" stroke-width="1"/>
<line x1="91.90" y1="480.40" x2="91.90" y2="483.60" stroke="#000" stroke-width="1"/>
<line x1="105.88" y1="480.40" x2="105.88" y2="483.60" stroke="#000" stroke-width="1"/>
<line x1="119.85" y1="480.40" x2="119.85" y2="483.60" stroke="#000" stroke-width="1"/>
<text x="63.00" y="424.30" font-size="6.6" fill="#444">iPSCs-HPCs</text>
<text x="64.20" y="494.60" font-size="8.2" fill="#333" text-anchor="middle">−5000</text>
<text x="91.90" y="494.60" font-size="8.2" fill="#333" text-anchor="middle">0</text>
<text x="120.10" y="494.60" font-size="8.2" fill="#333" text-anchor="middle">5000</text>
<text x="91.90" y="509.10" font-size="9.4" fill="#222" text-anchor="middle" textLength="72.4" lengthAdjust="spacingAndGlyphs" stroke="#222" stroke-width="0.25">Distance from CpG (bp)</text>
<text transform="translate(27.70,448.50) rotate(-90)" x="0" y="0" font-size="9.3" fill="#222" stroke="#222" stroke-width="0.25" text-anchor="middle" textLength="53.6" lengthAdjust="spacingAndGlyphs">Enrichment score</text>
<polyline points="131.7,454.7 132.0,457.9 132.3,463.4 132.9,457.4 133.6,453.5 134.2,457.2 134.8,460.9 135.4,464.5 136.0,467.1 136.3,463.0 136.6,457.2 137.3,472.0 137.9,465.2 138.5,460.9 139.1,458.8 139.7,454.7 140.3,454.3 141.0,450.9 141.6,447.7 142.2,446.1 142.8,450.7 143.4,457.2 144.1,459.8 144.7,463.4 145.9,448.6 146.5,447.4 147.1,444.9 147.8,448.5 148.4,454.7 149.0,448.9 149.6,443.6 150.2,447.0 150.8,451.0 151.4,456.8 152.1,459.7 152.7,454.1 153.3,449.8 153.9,445.8 154.5,441.2 155.2,445.0 155.8,447.3 156.4,442.2 157.0,439.9 157.6,437.3 158.2,432.5 158.8,428.9 159.5,425.1 160.0,423.8 160.5,420.2 161.3,432.5 161.6,429.3 161.9,426.3 163.2,446.1 163.8,451.7 164.4,454.7 165.0,453.0 165.6,448.6 166.2,451.5 166.9,456.0 168.1,441.2 169.3,453.5 169.9,449.2 170.6,447.3 171.2,452.0 171.8,458.4 172.4,461.3 173.0,464.6 174.3,451.0 174.9,449.8 175.5,446.1 176.2,449.4 176.8,454.7 177.4,457.4 178.0,458.4 178.5,462.4 179.0,468.3 179.4,461.4 179.8,457.2 180.4,451.9 181.1,448.6 182.3,460.9 183.5,444.9 184.8,459.7 186.0,443.6 186.6,444.9 187.2,448.6" fill="none" stroke="#2f6535" stroke-width="1.15" stroke-linejoin="round"/>
<line x1="128.80" y1="461.40" x2="190.40" y2="461.40" stroke="#000" stroke-width="1"/>
<rect x="128.80" y="416.70" width="61.60" height="63.70" fill="none" stroke="#000" stroke-width="1.3"/>
<line x1="125.60" y1="426.75" x2="128.80" y2="426.75" stroke="#000" stroke-width="1"/>
<line x1="125.60" y1="438.30" x2="128.80" y2="438.30" stroke="#000" stroke-width="1"/>
<line x1="125.60" y1="449.85" x2="128.80" y2="449.85" stroke="#000" stroke-width="1"/>
<line x1="125.60" y1="461.40" x2="128.80" y2="461.40" stroke="#000" stroke-width="1"/>
<line x1="125.60" y1="472.95" x2="128.80" y2="472.95" stroke="#000" stroke-width="1"/>
<line x1="131.35" y1="480.40" x2="131.35" y2="483.60" stroke="#000" stroke-width="1"/>
<line x1="145.33" y1="480.40" x2="145.33" y2="483.60" stroke="#000" stroke-width="1"/>
<line x1="159.30" y1="480.40" x2="159.30" y2="483.60" stroke="#000" stroke-width="1"/>
<line x1="173.28" y1="480.40" x2="173.28" y2="483.60" stroke="#000" stroke-width="1"/>
<line x1="187.25" y1="480.40" x2="187.25" y2="483.60" stroke="#000" stroke-width="1"/>
<text x="130.40" y="424.30" font-size="6.6" fill="#444">HPCs-</text>
<text x="130.40" y="431.70" font-size="6.6" fill="#444">MONs</text>
<polyline points="199.3,465.9 199.9,459.7 200.6,456.0 201.0,462.7 201.4,467.1 202.2,452.3 203.0,465.9 203.4,461.3 203.9,454.7 204.4,457.5 204.9,463.4 205.4,465.7 205.9,470.8 206.7,454.7 207.3,456.5 208.0,458.4 208.6,457.0 209.2,453.5 209.8,455.2 210.4,458.4 211.1,460.9 211.7,464.6 212.9,451.0 213.5,449.3 214.1,446.1 214.6,449.6 215.0,456.0 216.0,475.7 216.6,439.9 217.8,454.7 218.4,452.7 219.1,448.6 220.3,464.6 221.5,438.7 222.8,451.0 223.4,449.4 224.0,444.9 224.6,448.9 225.2,451.0 225.6,457.5 225.9,460.9 227.1,444.9 227.7,449.8 228.3,454.7 228.9,448.2 229.6,443.6 230.2,449.5 230.8,453.5 231.4,456.9 232.0,457.2 232.7,454.9 233.3,451.0 233.9,454.7 234.5,460.9 235.7,443.6 237.0,467.1 238.2,454.7 238.8,456.6 239.4,459.7 240.1,461.9 240.7,465.9 241.3,461.1 241.9,454.7 242.5,448.8 243.1,444.9 243.8,446.5 244.4,451.0 245.0,452.8 245.6,454.7 246.2,456.5 246.8,458.4 247.4,462.1 248.1,465.9 248.7,463.6 249.3,460.9 249.9,463.3 250.5,464.6 251.2,461.1 251.8,457.2 252.4,455.6 253.0,454.7 253.6,450.1 254.2,448.6" fill="none" stroke="#2f6535" stroke-width="1.15" stroke-linejoin="round"/>
<line x1="196.20" y1="461.40" x2="257.80" y2="461.40" stroke="#000" stroke-width="1"/>
<rect x="196.20" y="416.70" width="61.60" height="63.70" fill="none" stroke="#000" stroke-width="1.3"/>
<line x1="193.00" y1="426.75" x2="196.20" y2="426.75" stroke="#000" stroke-width="1"/>
<line x1="193.00" y1="438.30" x2="196.20" y2="438.30" stroke="#000" stroke-width="1"/>
<line x1="193.00" y1="449.85" x2="196.20" y2="449.85" stroke="#000" stroke-width="1"/>
<line x1="193.00" y1="461.40" x2="196.20" y2="461.40" stroke="#000" stroke-width="1"/>
<line x1="193.00" y1="472.95" x2="196.20" y2="472.95" stroke="#000" stroke-width="1"/>
<line x1="198.75" y1="480.40" x2="198.75" y2="483.60" stroke="#000" stroke-width="1"/>
<line x1="212.72" y1="480.40" x2="212.72" y2="483.60" stroke="#000" stroke-width="1"/>
<line x1="226.70" y1="480.40" x2="226.70" y2="483.60" stroke="#000" stroke-width="1"/>
<line x1="240.67" y1="480.40" x2="240.67" y2="483.60" stroke="#000" stroke-width="1"/>
<line x1="254.65" y1="480.40" x2="254.65" y2="483.60" stroke="#000" stroke-width="1"/>
<text x="197.80" y="424.30" font-size="6.6" fill="#444">HPCs-BCs</text>
<polyline points="267.2,467.1 267.6,460.2 268.1,456.0 268.6,454.4 269.0,455.0 269.5,456.7 270.0,460.6 270.4,459.6 270.9,457.8 271.4,460.0 271.8,462.5 272.2,465.9 272.7,466.2 273.2,463.4 273.7,460.6 274.1,461.9 274.6,465.3 275.1,458.7 275.5,455.0 276.0,457.1 276.5,457.8 276.9,455.9 277.4,454.1 277.9,457.7 278.3,460.6 278.8,456.2 279.2,453.2 279.7,455.3 280.2,459.7 280.6,462.2 281.1,466.2 281.6,461.3 282.0,455.0 282.4,457.0 282.9,456.9 283.4,459.7 283.9,460.6 284.4,462.5 284.8,466.2 285.2,464.3 285.7,459.7 286.2,461.7 286.7,461.5 287.1,459.6 287.6,459.7 288.1,458.4 288.5,454.1 288.9,456.8 289.4,457.8 289.9,455.5 290.4,455.0 290.9,456.0 291.3,459.7 291.8,456.0 292.2,452.3 292.6,451.4 293.1,449.5 293.3,450.0 293.5,450.4 293.9,453.3 294.4,453.2 294.9,455.3 295.3,456.0 295.8,455.8 296.2,457.8 296.7,459.7 297.2,459.7 297.6,459.2 298.1,457.8 298.6,458.8 299.0,460.6 299.5,463.1 300.0,462.5 300.4,464.9 300.9,465.3 301.4,464.5 301.8,460.6 302.2,461.2 302.7,458.8 303.2,459.6 303.7,461.5 304.1,462.7 304.6,466.2 305.1,463.2 305.5,461.5 306.0,459.9 306.5,460.6 306.9,459.8 307.4,459.7 307.9,461.1 308.3,460.6 308.8,459.4 309.2,457.8 309.7,457.2 310.2,456.0 310.6,454.1 311.1,454.1 311.6,453.9 312.0,455.0 312.5,455.9 313.0,456.9 313.4,456.8 313.9,459.7 314.4,462.3 314.8,462.5 315.3,460.3 315.8,460.6 316.2,460.3 316.7,458.8 317.1,457.9 317.6,457.8 318.1,459.3 318.5,458.8 319.0,457.6 319.5,456.9 319.9,457.7 320.4,457.8 320.9,459.4 321.3,460.6 321.8,460.8 322.3,462.5 322.9,462.1 323.5,460.5" fill="none" stroke="#2f6535" stroke-width="1.15" stroke-linejoin="round"/>
<line x1="264.40" y1="461.40" x2="326.00" y2="461.40" stroke="#000" stroke-width="1"/>
<rect x="264.40" y="416.70" width="61.60" height="63.70" fill="none" stroke="#000" stroke-width="1.3"/>
<line x1="261.20" y1="426.75" x2="264.40" y2="426.75" stroke="#000" stroke-width="1"/>
<line x1="261.20" y1="438.30" x2="264.40" y2="438.30" stroke="#000" stroke-width="1"/>
<line x1="261.20" y1="449.85" x2="264.40" y2="449.85" stroke="#000" stroke-width="1"/>
<line x1="261.20" y1="461.40" x2="264.40" y2="461.40" stroke="#000" stroke-width="1"/>
<line x1="261.20" y1="472.95" x2="264.40" y2="472.95" stroke="#000" stroke-width="1"/>
<line x1="266.95" y1="480.40" x2="266.95" y2="483.60" stroke="#000" stroke-width="1"/>
<line x1="280.92" y1="480.40" x2="280.92" y2="483.60" stroke="#000" stroke-width="1"/>
<line x1="294.90" y1="480.40" x2="294.90" y2="483.60" stroke="#000" stroke-width="1"/>
<line x1="308.88" y1="480.40" x2="308.88" y2="483.60" stroke="#000" stroke-width="1"/>
<line x1="322.85" y1="480.40" x2="322.85" y2="483.60" stroke="#000" stroke-width="1"/>
<text x="266.00" y="424.30" font-size="6.6" fill="#444">HPCs-TCs</text>
<line x1="393.7" y1="309.7" x2="393.7" y2="398" stroke="#000" stroke-width="1.3"/>
<line x1="390.6" y1="312.6" x2="393.7" y2="312.6" stroke="#000" stroke-width="1"/>
<text x="387.40" y="315.50" font-size="8.1" fill="#222" text-anchor="end">1000</text>
<line x1="390.6" y1="329.1" x2="393.7" y2="329.1" stroke="#000" stroke-width="1"/>
<text x="387.40" y="332.00" font-size="8.1" fill="#222" text-anchor="end">800</text>
<line x1="390.6" y1="345.7" x2="393.7" y2="345.7" stroke="#000" stroke-width="1"/>
<text x="387.40" y="348.60" font-size="8.1" fill="#222" text-anchor="end">600</text>
<line x1="390.6" y1="362.2" x2="393.7" y2="362.2" stroke="#000" stroke-width="1"/>
<text x="387.40" y="365.10" font-size="8.1" fill="#222" text-anchor="end">400</text>
<line x1="390.6" y1="378.8" x2="393.7" y2="378.8" stroke="#000" stroke-width="1"/>
<text x="387.40" y="381.70" font-size="8.1" fill="#222" text-anchor="end">200</text>
<line x1="390.6" y1="395.3" x2="393.7" y2="395.3" stroke="#000" stroke-width="1"/>
<text x="387.40" y="398.20" font-size="8.1" fill="#222" text-anchor="end">0</text>
<text transform="translate(361.80,354.00) rotate(-90)" x="0" y="0" font-size="9.3" fill="#222" stroke="#222" stroke-width="0.25" text-anchor="middle" textLength="31" lengthAdjust="spacingAndGlyphs">Frequency</text>
<path d="M398.27,395.30 V390.57 H401.13 V390.55 H403.99 V390.97 H406.84 V391.29 H409.70 V391.62 H412.56 V391.09 H415.41 V391.02 H418.27 V391.51 H421.12 V391.45 H423.98 V389.97 H426.84 V390.40 H429.69 V390.91 H432.55 V390.49 H435.41 V389.52 H438.26 V389.44 H441.12 V385.54 H443.97 V382.89 H446.83 V378.35 H449.69 V370.49 H452.54 V314.34 H455.40 V320.70 H458.26 V371.32 H461.11 V379.17 H463.97 V383.31 H466.82 V385.79 H469.68 V389.48 H472.54 V390.63 H475.39 V389.80 H478.25 V389.97 H481.11 V391.34 H483.96 V390.40 H486.82 V391.52 H489.67 V390.83 H492.53 V390.98 H495.39 V391.36 H498.24 V391.21 H501.10 V390.52 H503.96 V391.27 H506.81 V391.53 H509.67 V390.73 H512.52 V395.30 Z" fill="#dccce2" opacity="1.0"/>
<path d="M398.27,395.30 V391.68 H401.13 V391.20 H403.99 V391.94 H406.84 V391.81 H409.70 V391.15 H412.56 V391.51 H415.41 V391.48 H418.27 V391.80 H421.12 V392.04 H423.98 V390.76 H426.84 V391.81 H429.69 V390.71 H432.55 V391.23 H435.41 V390.32 H438.26 V390.87 H441.12 V386.62 H443.97 V384.71 H446.83 V380.58 H449.69 V371.15 H452.54 V352.96 H455.40 V353.54 H458.26 V371.73 H461.11 V381.08 H463.97 V384.96 H466.82 V387.03 H469.68 V390.49 H472.54 V390.73 H475.39 V391.22 H478.25 V390.77 H481.11 V391.67 H483.96 V391.48 H486.82 V391.00 H489.67 V391.61 H492.53 V391.21 H495.39 V391.37 H498.24 V390.96 H501.10 V390.92 H503.96 V391.29 H506.81 V391.19 H509.67 V392.07 H512.52 V395.30 Z" fill="#968cce" opacity="0.45"/>
<line x1="407" y1="398.6" x2="504.4" y2="398.6" stroke="#000" stroke-width="1.3"/>
<line x1="409.70" y1="398.6" x2="409.70" y2="401.6" stroke="#000" stroke-width="1"/>
<text transform="translate(412.90,407.20) rotate(-45)" font-size="8.6" fill="#222" text-anchor="end">–4000</text>
<line x1="432.55" y1="398.6" x2="432.55" y2="401.6" stroke="#000" stroke-width="1"/>
<text transform="translate(435.75,407.20) rotate(-45)" font-size="8.6" fill="#222" text-anchor="end">–2000</text>
<line x1="455.40" y1="398.6" x2="455.40" y2="401.6" stroke="#000" stroke-width="1"/>
<text transform="translate(458.60,407.20) rotate(-45)" font-size="8.6" fill="#222" text-anchor="end">0</text>
<line x1="478.25" y1="398.6" x2="478.25" y2="401.6" stroke="#000" stroke-width="1"/>
<text transform="translate(481.45,407.20) rotate(-45)" font-size="8.6" fill="#222" text-anchor="end">2000</text>
<line x1="501.10" y1="398.6" x2="501.10" y2="401.6" stroke="#000" stroke-width="1"/>
<text transform="translate(504.30,407.20) rotate(-45)" font-size="8.6" fill="#222" text-anchor="end">4000</text>
<text x="455.80" y="438.80" font-size="9.4" fill="#222" text-anchor="middle" textLength="57" lengthAdjust="spacingAndGlyphs" stroke="#222" stroke-width="0.25">Distance from CpG</text>
<rect x="411.5" y="454.6" width="2.8" height="3.5" fill="#d8c8dc"/>
<rect x="411.5" y="465.6" width="2.8" height="3.5" fill="#c0bcd8"/>
<text x="417.30" y="458.60" font-size="6.6" fill="#333" textLength="63.5" lengthAdjust="spacingAndGlyphs">demethylated CpG</text>
<text x="417.30" y="469.60" font-size="6.6" fill="#333" textLength="82" lengthAdjust="spacingAndGlyphs">randomly selected probe</text></svg></body></html>
